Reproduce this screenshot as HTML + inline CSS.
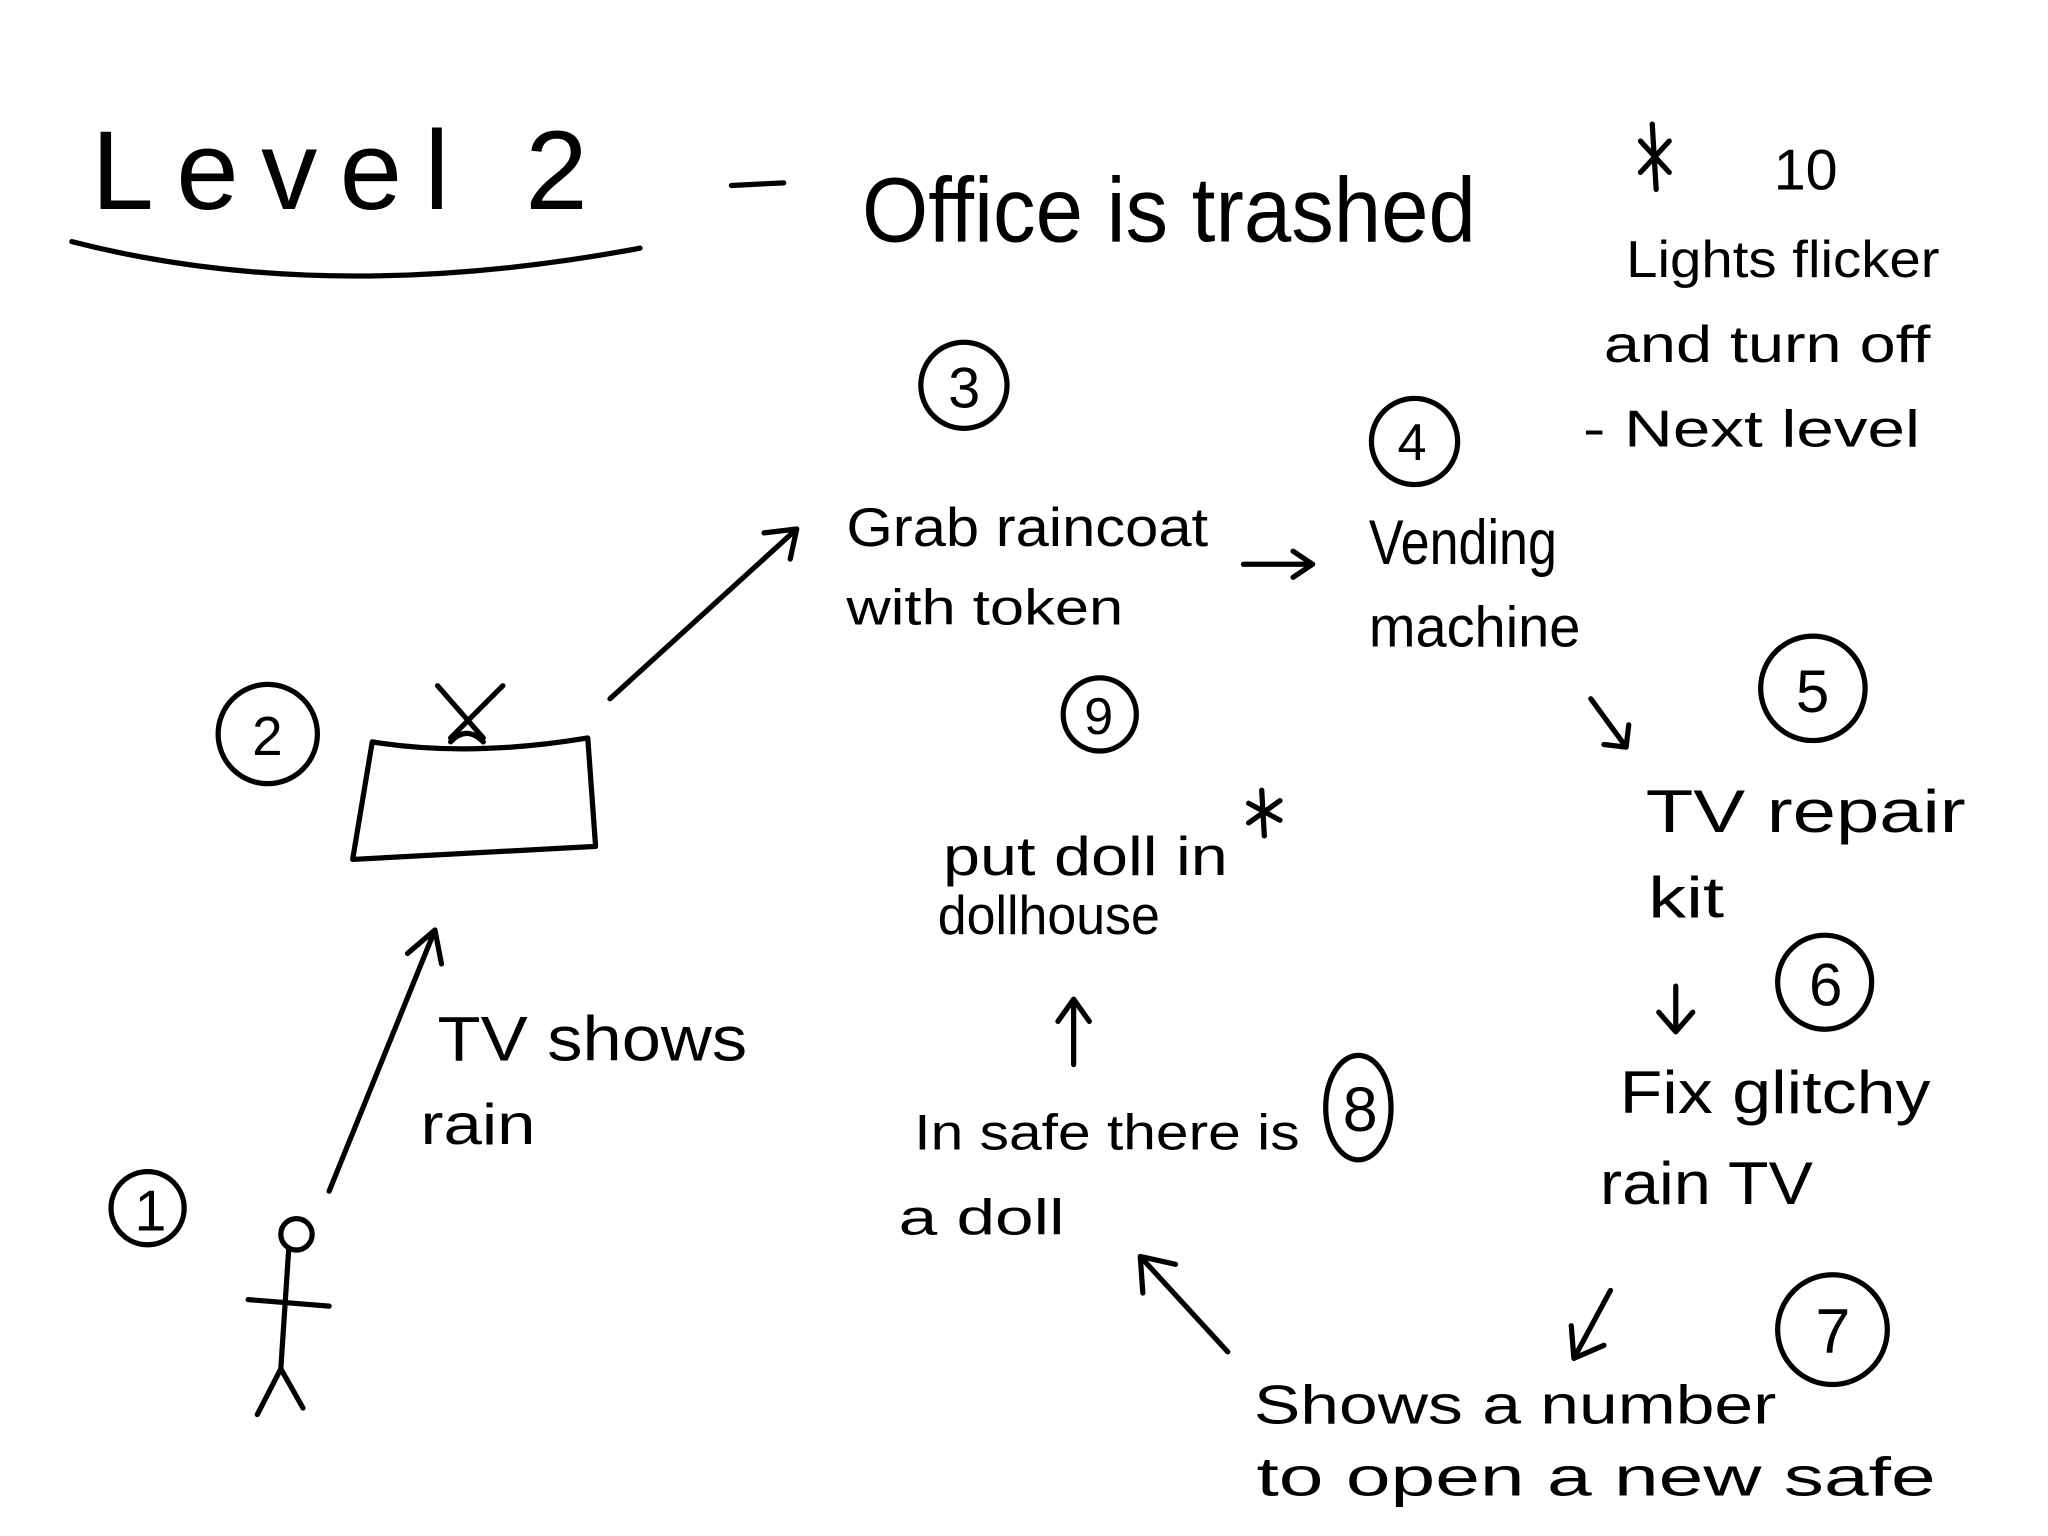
<!DOCTYPE html>
<html><head><meta charset="utf-8"><style>
html,body{margin:0;padding:0;background:#fff;}
svg{display:block}
text{font-family:"Liberation Sans",sans-serif;fill:#000;}
</style></head><body>
<svg width="2048" height="1536" viewBox="0 0 1568 1176" xmlns="http://www.w3.org/2000/svg">
<g fill="none" stroke="#000" stroke-width="4" stroke-linecap="round" stroke-linejoin="round">
<path d="M55,185 Q250,235 490,190"/>
<line x1="560" y1="142" x2="600" y2="140"/>
<path d="M1265,95 L1268,145 M1256,108 L1278,132 M1278,108 L1256,132"/>
<circle cx="738" cy="295" r="33"/>
<circle cx="1083" cy="338" r="33"/>
<circle cx="205" cy="562" r="38"/>
<circle cx="842" cy="547" r="28"/>
<circle cx="1388" cy="527" r="40"/>
<circle cx="1397" cy="752" r="36"/>
<circle cx="1403" cy="1018" r="42"/>
<ellipse cx="1040" cy="848" rx="25" ry="40"/>
<circle cx="113" cy="925" r="28"/>
<path d="M285,568 Q360,580 450,565 L456,648 L270,658 Z"/>
<path d="M335,525 L370,565 M385,525 L345,565 M345,568 Q357,555 370,568"/>
<path d="M467,535 L610,405 M585,408 L610,405 L605,428"/>
<path d="M952,432 L1005,432 M990,422 L1005,432 L990,442"/>
<path d="M1218,535 L1245,572 M1228,570 L1245,572 L1247,555"/>
<path d="M1283,755 L1283,790 M1270,775 L1283,790 L1296,775"/>
<path d="M1233,988 L1205,1040 M1203,1015 L1205,1040 L1228,1030"/>
<path d="M940,1035 L873,962 M875,990 L873,962 L900,968"/>
<path d="M822,815 L822,765 M810,782 L822,765 L834,782"/>
<path d="M252,912 L333,712 M312,730 L333,712 L338,738"/>
<path d="M966,605 L968,640 M956,615 L980,628 M980,613 L956,630"/>
<circle cx="227" cy="945" r="12"/>
<path d="M221,957 L215,1048 M190,995 L252,1000 M215,1048 L197,1083 M215,1048 L232,1078"/>
</g>
<text x="70" y="160" font-size="86" textLength="380" lengthAdjust="spacing">Level 2</text>
<text x="660" y="185" font-size="70" textLength="470" lengthAdjust="spacingAndGlyphs">Office is trashed</text>
<text x="1358" y="145" font-size="44">10</text>
<text x="1245" y="212" font-size="40" textLength="240" lengthAdjust="spacingAndGlyphs">Lights flicker</text>
<text x="1228" y="277" font-size="40" textLength="250" lengthAdjust="spacingAndGlyphs">and turn off</text>
<text x="1212" y="342" font-size="40" textLength="258" lengthAdjust="spacingAndGlyphs">- Next level</text>
<text x="726" y="312" font-size="44">3</text>
<text x="1070" y="352" font-size="40">4</text>
<text x="193" y="578" font-size="42">2</text>
<text x="830" y="562" font-size="40">9</text>
<text x="1375" y="545" font-size="46">5</text>
<text x="1385" y="770" font-size="46">6</text>
<text x="1390" y="1036" font-size="48">7</text>
<text x="1028" y="866" font-size="48">8</text>
<text x="103" y="942" font-size="44">1</text>
<text x="648" y="418" font-size="42" textLength="277" lengthAdjust="spacingAndGlyphs">Grab raincoat</text>
<text x="648" y="478" font-size="38" textLength="212" lengthAdjust="spacingAndGlyphs">with token</text>
<text x="1048" y="432" font-size="48" textLength="144" lengthAdjust="spacingAndGlyphs">Vending</text>
<text x="1048" y="495" font-size="44" textLength="162" lengthAdjust="spacingAndGlyphs">machine</text>
<text x="722" y="670" font-size="42" textLength="218" lengthAdjust="spacingAndGlyphs">put doll in</text>
<text x="718" y="715" font-size="42" textLength="170" lengthAdjust="spacingAndGlyphs">dollhouse</text>
<text x="1260" y="637" font-size="46" textLength="245" lengthAdjust="spacingAndGlyphs">TV repair</text>
<text x="1262" y="702" font-size="44" textLength="58" lengthAdjust="spacingAndGlyphs">kit</text>
<text x="1240" y="852" font-size="46" textLength="238" lengthAdjust="spacingAndGlyphs">Fix glitchy</text>
<text x="1225" y="922" font-size="46" textLength="163" lengthAdjust="spacingAndGlyphs">rain TV</text>
<text x="960" y="1090" font-size="42" textLength="400" lengthAdjust="spacingAndGlyphs">Shows a number</text>
<text x="962" y="1145" font-size="42" textLength="520" lengthAdjust="spacingAndGlyphs">to open a new safe</text>
<text x="700" y="880" font-size="38" textLength="295" lengthAdjust="spacingAndGlyphs">In safe there is</text>
<text x="688" y="945" font-size="38" textLength="127" lengthAdjust="spacingAndGlyphs">a doll</text>
<text x="335" y="812" font-size="48" textLength="237" lengthAdjust="spacingAndGlyphs">TV shows</text>
<text x="322" y="876" font-size="44" textLength="88" lengthAdjust="spacingAndGlyphs">rain</text>
</svg>
</body></html>
